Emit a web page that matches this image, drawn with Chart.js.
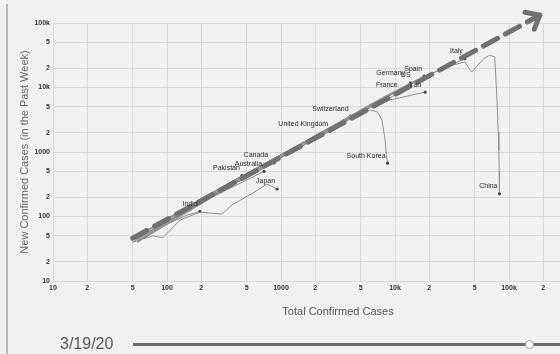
<!DOCTYPE html>
<html>
<head>
<meta charset="utf-8">
<script src="https://cdn.jsdelivr.net/npm/chart.js@4.4.1/dist/chart.umd.min.js"></script>
<style>
  html, body { margin: 0; padding: 0; background: #f1f1f1; overflow: hidden; width: 560px; height: 354px; }
  #wrap { position: relative; width: 560px; height: 354px; overflow: hidden; }
  #chart { position: absolute; left: 0; top: 0; }
  .edge { position: absolute; left: 6px; top: 4px; bottom: 0; width: 2px; background: #b8b8b8; }
  .date { position: absolute; left: 60px; top: 335px; font: 16px "Liberation Sans", Arial, sans-serif; color: #555; }
  .track { position: absolute; left: 133px; top: 343px; width: 440px; height: 3px; background: #6b6b6b; }
  .knob { position: absolute; left: 525px; top: 340px; width: 7px; height: 7px; border-radius: 50%; background: #fff; border: 1px solid #999; }
</style>
</head>
<body>
<div id="wrap">
  <canvas id="chart" width="640" height="354"></canvas>
  <div class="edge"></div>
  <div class="date">3/19/20</div>
  <div class="track"></div>
  <div class="knob"></div>
</div>
<script>
const xTicks = [10, 20, 50, 100, 200, 500, 1000, 2000, 5000, 10000, 20000, 50000, 100000, 200000, 500000, 1000000];
const xTickLabels = ["10", "2", "5", "100", "2", "5", "1000", "2", "5", "10k", "2", "5", "100k", "2", "5", "1M"];
const yTicks = [10, 20, 50, 100, 200, 500, 1000, 2000, 5000, 10000, 20000, 50000, 100000];
const yTickLabels = ["10", "2", "5", "100", "2", "5", "1000", "2", "5", "10k", "2", "5", "100k"];

// growth trend (the big dashed arrow)
const trendX = [50, 186000];
const trendY = [46, 132000];

const countries = ["China", "Italy", "Spain", "Germany", "US", "France", "Iran", "Switzerland",
  "United Kingdom", "South Korea", "Canada", "Australia", "Pakistan", "Japan", "India"];

// total confirmed cases
const totals = {
  "China": [550, 2000, 6000, 17000, 31000, 41000, 47000, 60000, 68000, 75000, 78500, 80500, 81500, 82000, 82500],
  "Italy": [60, 300, 1100, 4600, 12000, 24700, 41000],
  "Spain": [55, 400, 2000, 7800, 18000],
  "Germany": [55, 300, 1500, 6000, 15300],
  "US": [55, 400, 1600, 5700, 13700],
  "France": [55, 400, 1800, 5400, 11000],
  "Iran": [60, 400, 2900, 6500, 9000, 13000, 18400],
  "Switzerland": [55, 300, 1100, 4075],
  "United Kingdom": [55, 300, 1100, 2700],
  "South Korea": [50, 400, 2000, 6000, 7000, 7700, 8200, 8400, 8600],
  "Canada": [55, 300, 870],
  "Australia": [55, 250, 710],
  "Pakistan": [55, 200, 454],
  "Japan": [50, 75, 92, 130, 195, 238, 303, 371, 567, 753, 924],
  "India": [55, 90, 150, 194]
};
// new confirmed cases in the past week
const weekly = {
  "China": [480, 1800, 5200, 14000, 22000, 24800, 17400, 28000, 31900, 29700, 6400, 2000, 1070, 500, 225],
  "Italy": [55, 280, 1000, 3800, 10000, 19000, 28000],
  "Spain": [45, 350, 1800, 7000, 15000],
  "Germany": [42, 260, 1300, 5300, 12500],
  "US": [40, 330, 1300, 4800, 11800],
  "France": [45, 330, 1500, 4400, 8300],
  "Iran": [50, 360, 2500, 5200, 6400, 7400, 8500],
  "Switzerland": [48, 280, 1000, 3600],
  "United Kingdom": [42, 250, 900, 2100],
  "South Korea": [40, 370, 1800, 4450, 4200, 3100, 1500, 900, 670],
  "Canada": [45, 250, 680],
  "Australia": [40, 200, 500],
  "Pakistan": [50, 190, 430],
  "Japan": [40, 50, 47, 88, 117, 113, 109, 151, 231, 319, 267],
  "India": [40, 70, 105, 120]
};

// label placement relative to the last point (pixels)
const labelShift = { "Germany": [-11, -5], "Canada": [-6, -4], "US": [0, -4], "Iran": [-4, -3] };

const toPts = (xs, ys) => xs.map((x, i) => ({ x: x, y: ys[i] }));

const datasets = [{
  label: "trend",
  data: toPts(trendX, trendY),
  showLine: true,
  borderColor: "#707070",
  borderWidth: 5,
  borderDash: [16, 9],
  borderCapStyle: "round",
  pointRadius: 0,
  clip: false
}];
countries.forEach((c) => {
  datasets.push({
    label: c,
    data: toPts(totals[c], weekly[c]),
    showLine: true,
    borderColor: "#8e8e8e",
    borderWidth: 1,
    pointRadius: (ctx) => (ctx.dataIndex === ctx.dataset.data.length - 1 ? 1.6 : 0),
    pointBackgroundColor: "#444",
    pointBorderWidth: 0
  });
});

const countryLabels = {
  id: "countryLabels",
  afterDatasetsDraw(chart) {
    const ctx = chart.ctx;
    ctx.save();
    ctx.font = '7px "Liberation Sans", Arial, sans-serif';
    ctx.fillStyle = "#2a2a2a";
    ctx.textAlign = "right";
    ctx.textBaseline = "bottom";
    chart.data.datasets.forEach((ds, i) => {
      if (i === 0) return;
      const pts = chart.getDatasetMeta(i).data;
      const p = pts[pts.length - 1];
      const s = labelShift[ds.label] || [-2, -4];
      ctx.fillText(ds.label, p.x + s[0], p.y + s[1]);
    });
    // arrow head on the trend line
    const tp = chart.getDatasetMeta(0).data;
    const a = tp[tp.length - 2], b = tp[tp.length - 1];
    const ang = Math.atan2(b.y - a.y, b.x - a.x);
    ctx.strokeStyle = "#707070";
    ctx.lineWidth = 5;
    ctx.lineCap = "round";
    ctx.lineJoin = "round";
    ctx.beginPath();
    ctx.moveTo(b.x - 15 * Math.cos(ang - 0.7), b.y - 15 * Math.sin(ang - 0.7));
    ctx.lineTo(b.x, b.y);
    ctx.lineTo(b.x - 15 * Math.cos(ang + 0.7), b.y - 15 * Math.sin(ang + 0.7));
    ctx.stroke();
    ctx.restore();
  }
};

const tickFont = { family: '"Liberation Sans", Arial, sans-serif', size: 7, weight: "bold" };
const titleFont = { family: '"Liberation Sans", Arial, sans-serif', size: 11 };

new Chart(document.getElementById("chart"), {
  type: "scatter",
  data: { datasets: datasets },
  options: {
    responsive: false,
    animation: false,
    layout: { padding: { left: 13, top: 23, right: 17, bottom: 33 } },
    plugins: { legend: { display: false }, tooltip: { enabled: false } },
    scales: {
      x: {
        type: "logarithmic",
        min: 10,
        max: 1000000,
        afterBuildTicks: (scale) => { scale.ticks = xTicks.map((v) => ({ value: v })); },
        afterFit: (scale) => { scale.height = 40; },
        grid: { color: "#dadada", drawTicks: false },
        border: { display: false },
        ticks: {
          autoSkip: false, maxRotation: 0, padding: 3,
          color: "#333", font: tickFont,
          callback: (v, i) => xTickLabels[i]
        },
        title: {
          display: true, text: "Total Confirmed Cases", color: "#555",
          font: titleFont,
          padding: { top: 0, bottom: 2 }
        }
      },
      y: {
        type: "logarithmic",
        min: 10,
        max: 100000,
        afterBuildTicks: (scale) => { scale.ticks = yTicks.map((v) => ({ value: v })); },
        afterFit: (scale) => { scale.width = 40; },
        grid: { color: "#dadada", drawTicks: false },
        border: { display: false },
        ticks: {
          autoSkip: false, padding: 3,
          color: "#333", font: tickFont,
          callback: (v, i) => yTickLabels[i]
        },
        title: {
          display: true, text: "New Confirmed Cases (in the Past Week)", color: "#666",
          font: titleFont,
          padding: { top: 5, bottom: 0 }
        }
      }
    }
  },
  plugins: [countryLabels]
});
</script>
</body>
</html>
